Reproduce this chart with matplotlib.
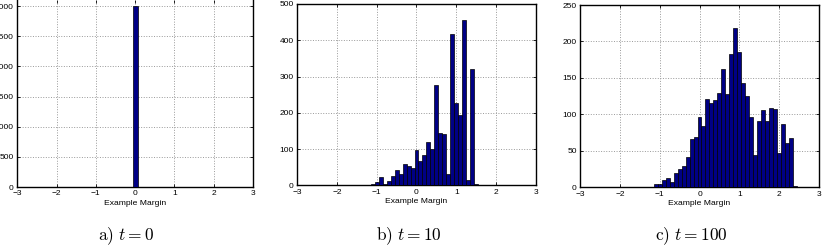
import matplotlib
matplotlib.use('Agg')
import matplotlib.pyplot as plt

# margin histograms at three boosting rounds
a_centers = [0.0]
a_counts = [3000]

b_centers = [-1.3, -1.2, -1.1, -1.0, -0.9, -0.8, -0.7, -0.6, -0.5, -0.4,
             -0.3, -0.2, -0.1, 0.0, 0.1, 0.2, 0.3, 0.4, 0.5, 0.6,
             0.7, 0.8, 0.9, 1.0, 1.1, 1.2, 1.3, 1.4, 1.5, 1.6, 1.7]
b_counts = [1, 2, 3, 8, 24, 3, 12, 25, 41, 32,
            58, 52, 49, 97, 67, 83, 120, 100, 276, 144,
            141, 32, 416, 226, 195, 456, 14, 320, 4, 0, 2]

c_centers = [-1.1, -1.0, -0.9, -0.8, -0.7, -0.6, -0.5, -0.4, -0.3, -0.2,
             -0.1, 0.0, 0.1, 0.2, 0.3, 0.4, 0.5, 0.6, 0.7, 0.8,
             0.9, 1.0, 1.1, 1.2, 1.3, 1.4, 1.5, 1.6, 1.7, 1.8,
             1.9, 2.0, 2.1, 2.2, 2.3, 2.4]
c_counts = [5, 4, 10, 13, 7, 20, 25, 29, 42, 66,
            69, 97, 84, 121, 116, 120, 129, 162, 128, 183,
            218, 186, 143, 125, 97, 44, 91, 106, 91, 109,
            108, 47, 87, 61, 68, 2]

x_ticks = [-3, -2, -1, 0, 1, 2, 3]
captions = [r'$\mathrm{a)}\ t = 0$', r'$\mathrm{b)}\ t = 10$', r'$\mathrm{c)}\ t = 100$']

plt.rcParams['mathtext.fontset'] = 'cm'
plt.rcParams['font.family'] = ['Liberation Sans', 'DejaVu Sans']

W, H = 828, 250
fig = plt.figure(figsize=(W / 100, H / 100), dpi=100)

# (left, right, top, bottom) in pixels, ylim, yticks, bar width
# panel a is cropped on the left and top in the original, so are its labels
panels = [
    (17.3, 253.0, 0.0, 187.0, 3100, [0, 500, 1000, 1500, 2000, 2500, 3000], a_centers, a_counts, 0.12),
    (297.0, 536.0, 4.0, 185.3, 500, [0, 100, 200, 300, 400, 500], b_centers, b_counts, 0.1),
    (580.3, 818.7, 5.0, 187.3, 250, [0, 50, 100, 150, 200, 250], c_centers, c_counts, 0.1),
]
cap_x = [126, 409, 691.5]

for i, (l, r, t, b, ymax, yt, xs, ys, w) in enumerate(panels):
    ax = fig.add_axes([l / W, 1 - b / H, (r - l) / W, (b - t) / H])
    ax.bar(xs, ys, width=w, color='#000085', edgecolor='black', linewidth=0.5, zorder=3)
    ax.set_xlim(-3, 3)
    ax.set_ylim(0, ymax)
    ax.set_xticks(x_ticks)
    ax.set_yticks(yt)
    ax.grid(True, linestyle=':', color='0.6', linewidth=0.7, zorder=0)
    ax.tick_params(direction='in', length=2, width=0.6, labelsize=6.0,
                   top=True, right=True, pad=2.5)
    for s in ax.spines.values():
        s.set_linewidth(1.0)
    if i == 0:
        ax.spines['top'].set_visible(False)
    ax.set_xlabel('Example Margin', fontsize=6.1, labelpad=1.5)
    fig.text(cap_x[i] / W, 1 - 236 / H, captions[i], fontsize=12.5,
             ha='center', va='center')

fig.savefig('out.png', dpi=100)
